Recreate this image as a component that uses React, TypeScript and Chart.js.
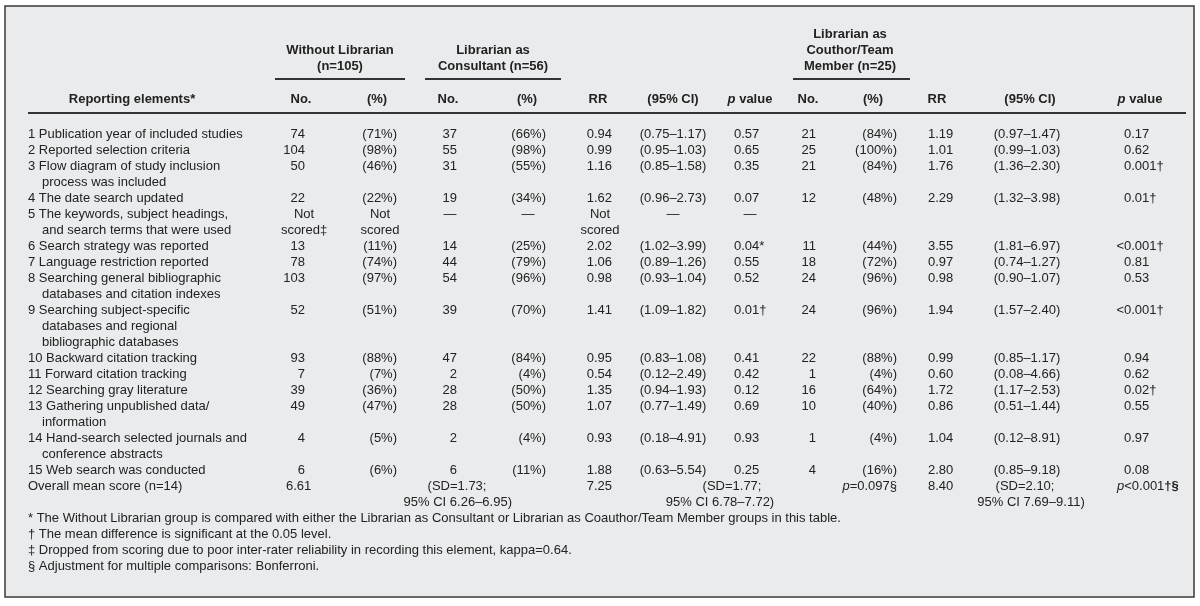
import React, { useEffect, useRef } from "react";
import { Chart, registerables } from "chart.js";

Chart.register(...registerables);

// ---------- DATA ----------
const elementLabels: string[][] = [
  ["1 Publication year of included studies"],
  ["2 Reported selection criteria"],
  ["3 Flow diagram of study inclusion", "process was included"],
  ["4 The date search updated"],
  ["5 The keywords, subject headings,", "and search terms that were used"],
  ["6 Search strategy was reported"],
  ["7 Language restriction reported"],
  ["8 Searching general bibliographic", "databases and citation indexes"],
  ["9 Searching subject-specific", "databases and regional", "bibliographic databases"],
  ["10 Backward citation tracking"],
  ["11 Forward citation tracking"],
  ["12 Searching gray literature"],
  ["13 Gathering unpublished data/", "information"],
  ["14 Hand-search selected journals and", "conference abstracts"],
  ["15 Web search was conducted"],
];

const withoutNo: (number | null)[] = [74, 104, 50, 22, null, 13, 78, 103, 52, 93, 7, 39, 49, 4, 6];
const withoutPct: (number | null)[] = [71, 98, 46, 22, null, 11, 74, 97, 51, 88, 7, 36, 47, 5, 6];

const consultNo: (number | null)[] = [37, 55, 31, 19, null, 14, 44, 54, 39, 47, 2, 28, 28, 2, 6];
const consultPct: (number | null)[] = [66, 98, 55, 34, null, 25, 79, 96, 70, 84, 4, 50, 50, 4, 11];
const consultRR: (number | null)[] = [0.94, 0.99, 1.16, 1.62, null, 2.02, 1.06, 0.98, 1.41, 0.95, 0.54, 1.35, 1.07, 0.93, 1.88];
const consultCILow: (number | null)[] = [0.75, 0.95, 0.85, 0.96, null, 1.02, 0.89, 0.93, 1.09, 0.83, 0.12, 0.94, 0.77, 0.18, 0.63];
const consultCIHigh: (number | null)[] = [1.17, 1.03, 1.58, 2.73, null, 3.99, 1.26, 1.04, 1.82, 1.08, 2.49, 1.93, 1.49, 4.91, 5.54];
const consultP: string[] = ["0.57", "0.65", "0.35", "0.07", "—", "0.04*", "0.55", "0.52", "0.01†", "0.41", "0.42", "0.12", "0.69", "0.93", "0.25"];

const coauthNo: (number | null)[] = [21, 25, 21, 12, null, 11, 18, 24, 24, 22, 1, 16, 10, 1, 4];
const coauthPct: (number | null)[] = [84, 100, 84, 48, null, 44, 72, 96, 96, 88, 4, 64, 40, 4, 16];
const coauthRR: (number | null)[] = [1.19, 1.01, 1.76, 2.29, null, 3.55, 0.97, 0.98, 1.94, 0.99, 0.6, 1.72, 0.86, 1.04, 2.8];
const coauthCILow: (number | null)[] = [0.97, 0.99, 1.36, 1.32, null, 1.81, 0.74, 0.9, 1.57, 0.85, 0.08, 1.17, 0.51, 0.12, 0.85];
const coauthCIHigh: (number | null)[] = [1.47, 1.03, 2.3, 3.98, null, 6.97, 1.27, 1.07, 2.4, 1.17, 4.66, 2.53, 1.44, 8.91, 9.18];
const coauthP: string[] = ["0.17", "0.62", "0.001†", "0.01†", "", "<0.001†", "0.81", "0.53", "<0.001†", "0.94", "0.62", "0.02†", "0.55", "0.97", "0.08"];

const overallLabel = "Overall mean score (n=14)";
const overallWithout = 6.61;
const overallConsult = 7.25;
const overallConsultSD = 1.73;
const overallConsultCI = [6.26, 6.95];
const overallConsultSD2 = 1.77;
const overallConsultCI2 = [6.78, 7.72];
const overallCoauthP = "0.097";
const overallCoauth = 8.4;
const overallCoauthSD = 2.1;
const overallCoauthCI = [7.69, 9.11];
const overallCoauthP2 = "0.001";

const footnotes: string[] = [
  "* The Without Librarian group is compared with either the Librarian as Consultant or Librarian as Coauthor/Team Member groups in this table.",
  "† The mean difference is significant at the 0.05 level.",
  "‡ Dropped from scoring due to poor inter-rater reliability in recording this element, kappa=0.64.",
  "§ Adjustment for multiple comparisons: Bonferroni.",
];

// ---------- LAYOUT ----------
const W = 1200;
const H = 606;
const FONT = '"Liberation Sans", Arial, Helvetica, sans-serif';
const FS = 13;
const TEXT = "#222";
const LINE_H = 16;
const FIRST_ROW_Y = 134;

type Seg = { t: string; bold?: boolean; italic?: boolean };

const tablePlugin = {
  id: "tablePlugin",
  beforeDraw(chart: any) {
    const ctx = chart.ctx as CanvasRenderingContext2D;
    const xs = chart.scales.x;
    const ys = chart.scales.y;
    const X = (v: number) => xs.getPixelForValue(v);
    const Y = (v: number) => ys.getPixelForValue(v);
    ctx.save();
    ctx.fillStyle = "#ffffff";
    ctx.fillRect(0, 0, W, H);
    ctx.fillStyle = "#eaebed";
    ctx.fillRect(X(5), Y(6), X(1194) - X(5), Y(597) - Y(6));
    ctx.strokeStyle = "#3a3a3a";
    ctx.lineWidth = 1.5;
    ctx.strokeRect(X(5), Y(6), X(1194) - X(5), Y(597) - Y(6));
    ctx.restore();
  },
  afterDraw(chart: any) {
    const ctx = chart.ctx as CanvasRenderingContext2D;
    const xs = chart.scales.x;
    const ys = chart.scales.y;
    const X = (v: number) => xs.getPixelForValue(v);
    const Y = (v: number) => ys.getPixelForValue(v);

    const fontOf = (s: Seg, baseBold: boolean) =>
      `${s.italic ? "italic " : ""}${s.bold || baseBold ? "bold " : ""}${FS}px ${FONT}`;

    const rich = (segs: Seg[], x: number, y: number, align: "left" | "right" | "center", bold = false) => {
      ctx.save();
      ctx.fillStyle = TEXT;
      ctx.textBaseline = "middle";
      ctx.textAlign = "left";
      let total = 0;
      const widths = segs.map((s) => {
        ctx.font = fontOf(s, bold);
        const w = ctx.measureText(s.t).width;
        total += w;
        return w;
      });
      let px = X(x);
      if (align === "right") px -= total;
      else if (align === "center") px -= total / 2;
      segs.forEach((s, i) => {
        ctx.font = fontOf(s, bold);
        ctx.fillText(s.t, px, Y(y));
        px += widths[i];
      });
      ctx.restore();
    };
    const txt = (t: string, x: number, y: number, align: "left" | "right" | "center", bold = false) =>
      rich([{ t }], x, y, align, bold);

    const hline = (x1: number, x2: number, y: number, w: number) => {
      ctx.save();
      ctx.strokeStyle = "#333";
      ctx.lineWidth = w;
      ctx.beginPath();
      ctx.moveTo(X(x1), Y(y));
      ctx.lineTo(X(x2), Y(y));
      ctx.stroke();
      ctx.restore();
    };

    // ---- header ----
    txt("Without Librarian", 340, 50, "center", true);
    txt("(n=105)", 340, 66, "center", true);
    txt("Librarian as", 493, 50, "center", true);
    txt("Consultant (n=56)", 493, 66, "center", true);
    txt("Librarian as", 850, 34, "center", true);
    txt("Couthor/Team", 850, 50, "center", true);
    txt("Member (n=25)", 850, 66, "center", true);
    hline(275, 405, 79, 2);
    hline(425, 561, 79, 2);
    hline(793, 910, 79, 2);

    const hy = 99;
    txt("Reporting elements*", 132, hy, "center", true);
    txt("No.", 301, hy, "center", true);
    txt("(%)", 377, hy, "center", true);
    txt("No.", 448, hy, "center", true);
    txt("(%)", 527, hy, "center", true);
    txt("RR", 598, hy, "center", true);
    txt("(95% CI)", 673, hy, "center", true);
    rich([{ t: "p", italic: true }, { t: " value" }], 750, hy, "center", true);
    txt("No.", 808, hy, "center", true);
    txt("(%)", 873, hy, "center", true);
    txt("RR", 937, hy, "center", true);
    txt("(95% CI)", 1030, hy, "center", true);
    rich([{ t: "p", italic: true }, { t: " value" }], 1140, hy, "center", true);
    hline(28, 1186, 113, 2);

    // ---- body rows ----
    const f2 = (v: number) => v.toFixed(2);
    let y = FIRST_ROW_Y;
    elementLabels.forEach((lines, i) => {
      lines.forEach((l, j) => txt(l, j === 0 ? 28 : 42, y + j * LINE_H, "left"));
      const y2 = y + LINE_H;
      // Without librarian
      if (withoutNo[i] !== null) txt(String(withoutNo[i]), 305, y, "right");
      else {
        txt("Not", 304, y, "center");
        txt("scored‡", 304, y2, "center");
      }
      if (withoutPct[i] !== null) txt(`(${withoutPct[i]}%)`, 397, y, "right");
      else {
        txt("Not", 380, y, "center");
        txt("scored", 380, y2, "center");
      }
      // Consultant
      if (consultNo[i] !== null) txt(String(consultNo[i]), 457, y, "right");
      else txt("—", 450, y, "center");
      if (consultPct[i] !== null) txt(`(${consultPct[i]}%)`, 546, y, "right");
      else txt("—", 528, y, "center");
      if (consultRR[i] !== null) txt(f2(consultRR[i] as number), 612, y, "right");
      else {
        txt("Not", 600, y, "center");
        txt("scored", 600, y2, "center");
      }
      if (consultCILow[i] !== null)
        txt(`(${f2(consultCILow[i] as number)}–${f2(consultCIHigh[i] as number)})`, 673, y, "center");
      else txt("—", 673, y, "center");
      if (consultP[i] === "—") txt("—", 750, y, "center");
      else txt(consultP[i], 734, y, "left");
      // Coauthor
      if (coauthNo[i] !== null) txt(String(coauthNo[i]), 816, y, "right");
      if (coauthPct[i] !== null) txt(`(${coauthPct[i]}%)`, 897, y, "right");
      if (coauthRR[i] !== null) txt(f2(coauthRR[i] as number), 928, y, "left");
      if (coauthCILow[i] !== null)
        txt(`(${f2(coauthCILow[i] as number)}–${f2(coauthCIHigh[i] as number)})`, 1027, y, "center");
      const p = coauthP[i];
      if (p) {
        if (p.startsWith("<")) {
          txt("<", 1124, y, "right");
          txt(p.slice(1), 1124, y, "left");
        } else txt(p, 1124, y, "left");
      }
      y += lines.length * LINE_H;
    });

    // ---- overall ----
    const oy = y;
    txt(overallLabel, 28, oy, "left");
    txt(f2(overallWithout), 286, oy, "left");
    txt(`(SD=${f2(overallConsultSD)};`, 457, oy, "center");
    txt(`95% CI ${f2(overallConsultCI[0])}–${f2(overallConsultCI[1])})`, 512, oy + LINE_H, "right");
    txt(f2(overallConsult), 612, oy, "right");
    txt(`(SD=${f2(overallConsultSD2)};`, 732, oy, "center");
    txt(`95% CI ${f2(overallConsultCI2[0])}–${f2(overallConsultCI2[1])})`, 720, oy + LINE_H, "center");
    rich([{ t: "p", italic: true }, { t: `=${overallCoauthP}§` }], 897, oy, "right");
    txt(f2(overallCoauth), 928, oy, "left");
    txt(`(SD=${f2(overallCoauthSD)};`, 1025, oy, "center");
    txt(`95% CI ${f2(overallCoauthCI[0])}–${f2(overallCoauthCI[1])})`, 1031, oy + LINE_H, "center");
    rich([{ t: "p", italic: true }, { t: `<${overallCoauthP2}` }, { t: "†§", bold: true }], 1117, oy, "left");

    // ---- footnotes ----
    footnotes.forEach((f, i) => txt(f, 28, oy + LINE_H * (2 + i), "left"));
  },
};

export default function App() {
  const ref = useRef<HTMLCanvasElement | null>(null);
  useEffect(() => {
    const prev = document.body.style.margin;
    document.body.style.margin = "0";
    if (!ref.current) return;
    const chart = new Chart(ref.current, {
      type: "scatter",
      data: { datasets: [] },
      options: {
        responsive: false,
        animation: false,
        devicePixelRatio: 1,
        layout: { padding: 0 },
        plugins: { legend: { display: false }, tooltip: { enabled: false } },
        scales: {
          x: { type: "linear", min: 0, max: W, display: false },
          y: { type: "linear", min: 0, max: H, reverse: true, display: false },
        },
      },
      plugins: [tablePlugin],
    } as any);
    return () => {
      chart.destroy();
      document.body.style.margin = prev;
    };
  }, []);
  return (
    <div style={{ position: "absolute", left: 0, top: 0, width: W, height: H }}>
      <canvas ref={ref} width={W} height={H} style={{ display: "block" }} />
    </div>
  );
}
